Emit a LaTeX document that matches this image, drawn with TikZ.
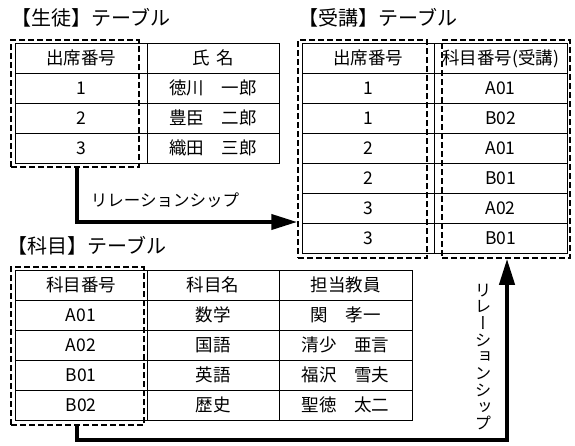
\documentclass[tikz,border=0pt]{standalone}
\usepackage{fontspec}
\setmainfont{Noto Sans CJK JP}
\newfontfamily\vjp{Noto Sans CJK JP}[RawFeature=+vert]
\usetikzlibrary{arrows.meta}
\tikzset{
  cell/.style={draw, line width=0.8pt, minimum height=30pt, inner sep=0pt,
    text height=14.5pt, text depth=2pt, font=\fontsize{17.5}{17.5}\selectfont},
  keybox/.style={draw, line width=1.5pt, dash pattern=on 6pt off 3pt, inner sep=0pt},
  ttl/.style={anchor=west, inner sep=0pt, font=\fontsize{20}{20}\selectfont},
  rel/.style={line width=4pt, line join=miter, -{Triangle[length=26pt,width=15pt]}},
  rlabel/.style={inner sep=0pt, font=\fontsize{16.5}{16.5}\selectfont}
}
\begin{document}
\begin{tikzpicture}[x=1pt,y=-1pt]
\useasboundingbox[fill=white] (0,0) rectangle (575,445);

% titles
\node[ttl] (t1) at (11,18) {【生徒】テーブル};
\node[ttl] (t2) at (298,18) {【受講】テーブル};
\node[ttl] (t3) at (7,246) {【科目】テーブル};

% student table
\node[cell, minimum width=132pt] (s11) at (81,58) {出席番号};
\node[cell, minimum width=132pt] (s12) at (213,58) {氏\hspace{0.4em}名};
\node[cell, minimum width=132pt] (s21) at (81,88) {1};
\node[cell, minimum width=132pt] (s22) at (213,88) {徳川　一郎};
\node[cell, minimum width=132pt] (s31) at (81,118) {2};
\node[cell, minimum width=132pt] (s32) at (213,118) {豊臣　二郎};
\node[cell, minimum width=132pt] (s41) at (81,148) {3};
\node[cell, minimum width=132pt] (s42) at (213,148) {織田　三郎};

% receive table
\node[cell, minimum width=132pt] (r11) at (368,58) {出席番号};
\node[cell, minimum width=133pt] (r12) at (500.5,58) {科目番号(受講)};
\node[cell, minimum width=132pt] (r21) at (368,88) {1};
\node[cell, minimum width=133pt] (r22) at (500.5,88) {A01};
\node[cell, minimum width=132pt] (r31) at (368,118) {1};
\node[cell, minimum width=133pt] (r32) at (500.5,118) {B02};
\node[cell, minimum width=132pt] (r41) at (368,148) {2};
\node[cell, minimum width=133pt] (r42) at (500.5,148) {A01};
\node[cell, minimum width=132pt] (r51) at (368,178) {2};
\node[cell, minimum width=133pt] (r52) at (500.5,178) {B01};
\node[cell, minimum width=132pt] (r61) at (368,208) {3};
\node[cell, minimum width=133pt] (r62) at (500.5,208) {A02};
\node[cell, minimum width=132pt] (r71) at (368,238) {3};
\node[cell, minimum width=133pt] (r72) at (500.5,238) {B01};

% subject table
\node[cell, minimum width=132pt] (j11) at (81,285) {科目番号};
\node[cell, minimum width=132pt] (j12) at (213,285) {科目名};
\node[cell, minimum width=133pt] (j13) at (345.5,285) {担当教員};
\node[cell, minimum width=132pt] (j21) at (81,315) {A01};
\node[cell, minimum width=132pt] (j22) at (213,315) {数学};
\node[cell, minimum width=133pt] (j23) at (345.5,315) {関　孝一};
\node[cell, minimum width=132pt] (j31) at (81,345) {A02};
\node[cell, minimum width=132pt] (j32) at (213,345) {国語};
\node[cell, minimum width=133pt] (j33) at (345.5,345) {清少　亜言};
\node[cell, minimum width=132pt] (j41) at (81,375) {B01};
\node[cell, minimum width=132pt] (j42) at (213,375) {英語};
\node[cell, minimum width=133pt] (j43) at (345.5,375) {福沢　雪夫};
\node[cell, minimum width=132pt] (j51) at (81,405) {B02};
\node[cell, minimum width=132pt] (j52) at (213,405) {歴史};
\node[cell, minimum width=133pt] (j53) at (345.5,405) {聖徳　太二};

% key boxes
\node[keybox, minimum width=128pt, minimum height=127pt] (sk) at (75,103.5) {};
\node[keybox, minimum width=129pt, minimum height=218pt] (rk1) at (362.5,149) {};
\node[keybox, minimum width=128pt, minimum height=218pt] (rk2) at (506,149) {};
\node[keybox, minimum width=133pt, minimum height=158pt] (jk) at (77.5,346) {};

% relationship arrows
\coordinate (c1) at (77,222);
\draw[rel] (c1 |- sk.south) -- (c1) -- (c1 -| rk1.west);
\node[rlabel] (l1) at (165,200) {リレーションシップ};

\coordinate (c2) at (77,440);
\coordinate (c3) at (507,440);
\draw[rel] (c2 |- jk.south) -- (c2) -- (c3) -- (c3 |- rk2.south);
\node[rlabel, align=center, font=\vjp\fontsize{16.5}{16.7}\selectfont] (l2) at (483,357)
  {リ\\レ\\ー\\シ\\ョ\\ン\\シ\\ッ\\プ};
\end{tikzpicture}
\end{document}
